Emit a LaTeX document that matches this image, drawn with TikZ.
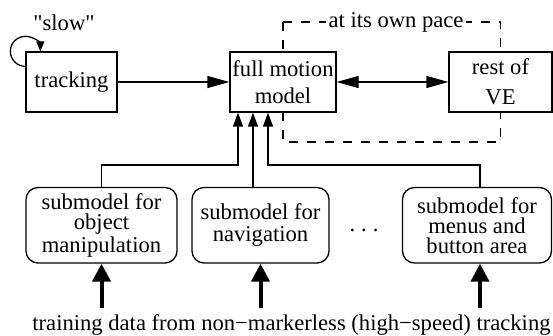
\documentclass[tikz,border=0pt]{standalone}
\usepackage{fontspec}
\setmainfont{Liberation Serif}
\newfontfamily\qfont{Liberation Serif}[Ligatures=TeXOff]
\usetikzlibrary{arrows.meta,calc,backgrounds}
\begin{document}
\begin{tikzpicture}[x=0.5pt,y=-0.5pt, line width=0.65pt,
  font=\fontsize{11.3}{11.5}\selectfont,
  box/.style={draw, fill=white, minimum width=#1, minimum height=30pt, inner sep=0pt, align=center},
  sub/.style={draw, fill=white, rounded corners=6pt, minimum width=#1, minimum height=37.75pt, inner sep=0pt, align=center, font=\fontsize{11.3}{10}\selectfont},
  varr/.style={-{Triangle[length=7pt,width=5pt]}},
  harr/.style={-{Triangle[length=11pt,width=6pt]}},
  darr/.style={{Triangle[length=11pt,width=6pt]}-{Triangle[length=11pt,width=6pt]}},
  tarr/.style={line width=2pt,-{Triangle[length=9pt,width=9pt]}},
  larr/.style={-{Triangle[length=5pt,width=4pt]}},
  dashbox/.style={line width=0.65pt, dash pattern=on 4.5pt off 4.5pt}]
\useasboundingbox (0,0) rectangle (553,336);

\node[box=45.5pt] (track) at (71.5,82) {tracking};
\node[box=53pt] (full) at (283,82) {full motion\\[2pt]model};
\node[box=51.5pt] (rest) at (500.5,82) {rest of\\[3.5pt]VE};

\node[sub=75.5pt] (s1) at (101.5,225.25) {submodel for\\object\\manipulation};
\node[sub=68.5pt] (s2) at (260.5,225.25) {submodel for\\[1pt]navigation};
\node[sub=74.5pt] (s3) at (477,225.25) {submodel for\\menus and\\button area};
\node (dots) at (364,230) {.\hspace{3pt}.\hspace{3pt}.};

\node[anchor=base, inner sep=0pt] (train) at (291.5,330.5) {training data from non−markerless (high−speed) tracking};
\node (slow) at (64,23) {\qfont "slow"};

\coordinate (dtop) at (0,22);
\coordinate (dbot) at (0,142);
\begin{scope}[on background layer]
\draw[dashbox] (full.center |- dtop) rectangle (rest.center |- dbot);
\end{scope}
\node[fill=white, inner sep=1.5pt] (pace) at (396,22) {at its own pace};

\draw[larr] ([yshift=-7.5pt]track.north west) arc[start angle=90, end angle=360, radius=15];

\draw[harr] (track) -- (full);
\draw[darr] (full) -- (rest);

\coordinate (fa) at ([xshift=-22.5pt]full.south);
\coordinate (fb) at ([xshift=-15pt]full.south);
\coordinate (fc) at ([xshift=-7.5pt]full.south);
\coordinate (bus) at (0,165);
\draw[varr] (s1.north) |- (bus -| fa) -- (fa);
\draw[varr] (fb |- s2.north) -- (fb);
\coordinate (s3top) at ([xshift=1.5pt]s3.north);
\draw[varr] (s3top) |- (bus -| fc) -- (fc);

\coordinate (tb) at (0,308);
\draw[tarr] (s1.south |- tb) -- (s1.south);
\draw[tarr] (s2.south |- tb) -- (s2.south);
\draw[tarr] (s3top |- tb) -- (s3top |- s3.south);
\end{tikzpicture}
\end{document}
